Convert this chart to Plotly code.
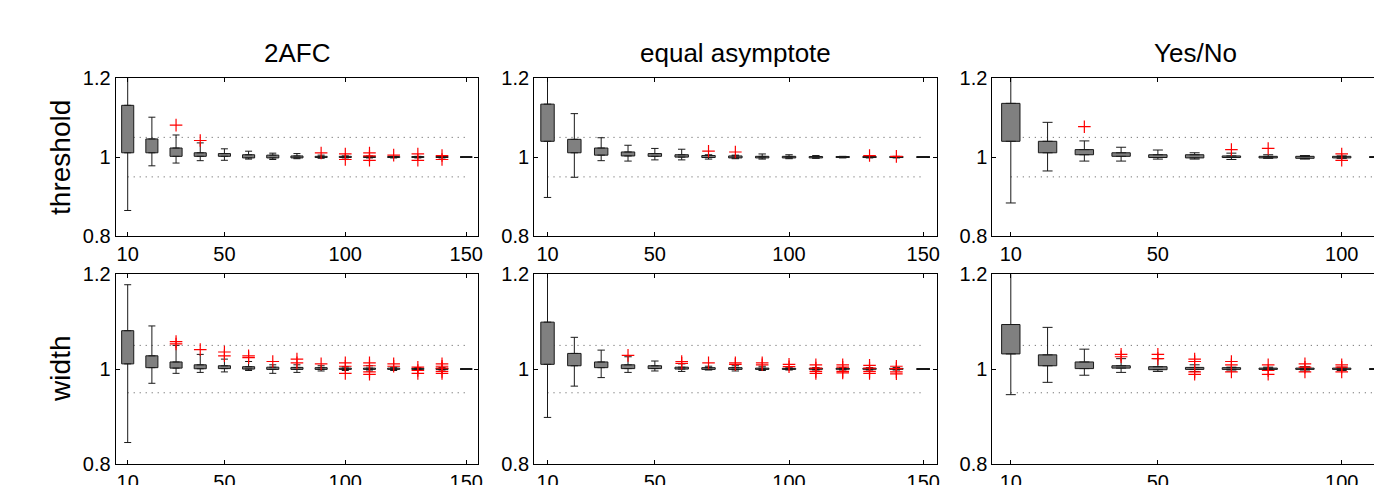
import plotly.graph_objects as go

# ---------------- data ----------------
x_long = [10, 20, 30, 40, 50, 60, 70, 80, 90, 100, 110, 120, 130, 140, 150]
x_short = [10, 20, 30, 40, 50, 60, 70, 80, 90, 100, 110]

col_titles = ["2AFC", "equal asymptote", "Yes/No"]
row_titles = ["threshold", "width"]
y_tick_vals = [0.8, 1.0, 1.2]
y_tick_text = ["0.8", "1", "1.2"]
x_ticks_long = [10, 50, 100, 150]
x_ticks_short = [10, 50, 100]
ref_lines = [1.05, 0.95]

# threshold, 2AFC
thr_2afc_q1 = [1.011, 1.011, 1.002, 1.002, 1.002, 0.998, 0.998, 0.998, 0.999, 0.999, 0.999, 0.999, 0.999, 0.999, 1.0]
thr_2afc_q3 = [1.131, 1.046, 1.023, 1.011, 1.009, 1.006, 1.005, 1.003, 1.002, 1.002, 1.0015, 1.0015, 1.0015, 1.0015, 1.0]
thr_2afc_lo = [0.865, 0.978, 0.985, 0.991, 0.992, 0.995, 0.994, 0.996, 0.997, 0.998, 0.998, 0.998, 0.998, 0.998, 1.0]
thr_2afc_hi = [1.25, 1.101, 1.056, 1.036, 1.021, 1.015, 1.010, 1.009, 1.005, 1.003, 1.003, 1.002, 1.002, 1.002, 1.0]
thr_2afc_out_x = [30, 40, 90, 100, 100, 110, 110, 110, 120, 130, 130, 140, 140]
thr_2afc_out_y = [1.081, 1.042, 1.0105, 1.008, 0.994, 1.0105, 1.003, 0.992, 1.005, 1.008, 0.992, 1.004, 0.994]

# threshold, equal asymptote
thr_eq_q1 = [1.040, 1.011, 1.005, 1.003, 1.002, 1.000, 0.999, 0.998, 0.998, 0.998, 0.998, 0.999, 0.999, 0.999, 1.0]
thr_eq_q3 = [1.134, 1.045, 1.023, 1.013, 1.009, 1.006, 1.004, 1.003, 1.002, 1.002, 1.0016, 1.0015, 1.0015, 1.0015, 1.0]
thr_eq_lo = [0.898, 0.949, 0.991, 0.990, 0.993, 0.993, 0.995, 0.996, 0.995, 0.996, 0.997, 0.998, 0.998, 0.998, 1.0]
thr_eq_hi = [1.25, 1.110, 1.049, 1.030, 1.022, 1.020, 1.006, 1.005, 1.008, 1.006, 1.004, 1.002, 1.002, 1.002, 1.0]
thr_eq_out_x = [70, 80, 130, 140]
thr_eq_out_y = [1.015, 1.013, 1.004, 1.002]

# threshold, Yes/No
thr_yn_q1 = [1.040, 1.011, 1.006, 1.002, 0.999, 0.998, 0.999, 0.998, 0.997, 0.998, 1.0]
thr_yn_q3 = [1.136, 1.040, 1.019, 1.011, 1.006, 1.006, 1.003, 1.002, 1.002, 1.002, 1.0]
thr_yn_lo = [0.884, 0.965, 0.990, 0.990, 0.995, 0.995, 0.994, 0.997, 0.995, 0.997, 1.0]
thr_yn_hi = [1.25, 1.088, 1.041, 1.025, 1.018, 1.011, 1.010, 1.006, 1.004, 1.003, 1.0]
thr_yn_out_x = [30, 70, 80, 100, 100]
thr_yn_out_y = [1.077, 1.019, 1.022, 1.008, 0.992]

# width, 2AFC
wid_2afc_q1 = [1.011, 1.003, 1.002, 1.0007, 1.001, 1.0, 0.9993, 0.9993, 0.9993, 0.9993, 0.9993, 0.9993, 0.9993, 0.9993, 1.0]
wid_2afc_q3 = [1.081, 1.028, 1.015, 1.009, 1.007, 1.005, 1.004, 1.0035, 1.003, 1.002, 1.002, 1.002, 1.0015, 1.0015, 1.0]
wid_2afc_lo = [0.845, 0.970, 0.991, 0.993, 0.994, 0.997, 0.991, 0.993, 0.996, 0.997, 0.996, 0.997, 0.998, 0.998, 1.0]
wid_2afc_hi = [1.178, 1.091, 1.050, 1.031, 1.021, 1.016, 1.009, 1.009, 1.007, 1.005, 1.007, 1.004, 1.003, 1.003, 1.0]
wid_2afc_out_x = [30, 30, 40, 50, 50, 60, 60, 70, 80, 80, 90, 100, 100, 100, 110, 110, 110, 110,
                  120, 120, 130, 130, 130, 140, 140, 140, 140, 140]
wid_2afc_out_y = [1.058, 1.053, 1.041, 1.036, 1.028, 1.028, 1.024, 1.016, 1.021, 1.013, 1.011, 1.013, 1.006, 0.991,
                  1.013, 1.007, 0.994, 0.989, 1.011, 1.006, 1.004, 0.997, 0.991, 1.011, 1.006, 1.002, 0.995, 0.991]

# width, equal asymptote
wid_eq_q1 = [1.010, 1.007, 1.003, 1.001, 1.001, 1.0, 0.9993, 0.9993, 0.9993, 0.9993, 0.9995, 0.9995, 0.9995, 0.9995, 1.0]
wid_eq_q3 = [1.099, 1.033, 1.015, 1.009, 1.007, 1.004, 1.003, 1.003, 1.002, 1.0015, 1.0015, 1.0015, 1.0015, 1.0015, 1.0]
wid_eq_lo = [0.898, 0.964, 0.982, 0.993, 0.996, 0.995, 0.998, 0.996, 0.997, 0.998, 0.998, 0.998, 0.998, 0.998, 1.0]
wid_eq_hi = [1.25, 1.067, 1.040, 1.026, 1.017, 1.011, 1.006, 1.007, 1.006, 1.004, 1.003, 1.003, 1.003, 1.003, 1.0]
wid_eq_out_x = [40, 60, 60, 70, 80, 80, 90, 90, 100, 100, 110, 110, 110, 110, 120, 120, 120, 120,
                130, 130, 130, 130, 140, 140, 140, 140]
wid_eq_out_y = [1.029, 1.016, 1.012, 1.013, 1.013, 1.010, 1.013, 1.009, 1.010, 1.005, 1.009, 1.002, 0.995, 0.991,
                1.009, 1.004, 0.995, 0.992, 1.008, 1.002, 0.995, 0.991, 1.006, 1.001, 0.994, 0.990]

# width, Yes/No
wid_yn_q1 = [1.032, 1.007, 1.001, 1.002, 0.9987, 0.9993, 0.9993, 0.9993, 0.9993, 0.9993, 1.0]
wid_yn_q3 = [1.094, 1.030, 1.015, 1.007, 1.005, 1.0035, 1.003, 1.002, 1.002, 1.002, 1.0]
wid_yn_lo = [0.946, 0.972, 0.987, 0.993, 0.995, 0.995, 0.996, 0.997, 0.996, 0.997, 1.0]
wid_yn_hi = [1.25, 1.088, 1.042, 1.022, 1.022, 1.009, 1.004, 1.004, 1.005, 1.004, 1.0]
wid_yn_out_x = [40, 40, 50, 50, 60, 60, 60, 60, 70, 70, 70, 80, 80, 80, 90, 90, 90, 100, 100, 100]
wid_yn_out_y = [1.031, 1.026, 1.031, 1.022, 1.021, 1.016, 0.994, 0.989, 1.016, 1.009, 0.994, 1.009, 0.997, 0.989,
                1.011, 1.004, 0.994, 1.009, 1.004, 0.994]

# ---------------- layout geometry (pixels) ----------------
W, H = 1382, 485
col_px = [(108, 472), (528, 932), (988, 1382)]
row_px = [(62, 228), (268, 467)]
x_ranges = [[5, 155], [5, 155], [5, 5 + (1382 - 988) / 3.69]]
cap_px = [3.5, 3.7, 5.0]
BOX_W = 5

panels = [
    (0, 0, x_long, thr_2afc_q1, thr_2afc_q3, thr_2afc_lo, thr_2afc_hi, thr_2afc_out_x, thr_2afc_out_y),
    (0, 1, x_long, thr_eq_q1, thr_eq_q3, thr_eq_lo, thr_eq_hi, thr_eq_out_x, thr_eq_out_y),
    (0, 2, x_short, thr_yn_q1, thr_yn_q3, thr_yn_lo, thr_yn_hi, thr_yn_out_x, thr_yn_out_y),
    (1, 0, x_long, wid_2afc_q1, wid_2afc_q3, wid_2afc_lo, wid_2afc_hi, wid_2afc_out_x, wid_2afc_out_y),
    (1, 1, x_long, wid_eq_q1, wid_eq_q3, wid_eq_lo, wid_eq_hi, wid_eq_out_x, wid_eq_out_y),
    (1, 2, x_short, wid_yn_q1, wid_yn_q3, wid_yn_lo, wid_yn_hi, wid_yn_out_x, wid_yn_out_y),
]

FONT = "Liberation Sans, Arial, Helvetica, sans-serif"
LINE = "#1a1a1a"
fig = go.Figure()
layout_axes = {}
shapes = []

for k, (r, c, xs, q1, q3, lo, hi, ox, oy) in enumerate(panels):
    n = k + 1
    xa = "x" if n == 1 else f"x{n}"
    ya = "y" if n == 1 else f"y{n}"
    nb = len(xs)

    # dotted reference lines, placed on the data axes, drawn beneath the boxes
    for yv in ref_lines:
        shapes.append(dict(
            type="line", xref=xa, yref=ya, x0=xs[0], x1=xs[-1], y0=yv, y1=yv,
            layer="below", line=dict(color="#555555", width=1, dash="1px,5px")))

    # boxes (interquartile range)
    fig.add_trace(go.Bar(
        x=xs, y=[b - a for a, b in zip(q1, q3)], base=q1, width=BOX_W,
        marker=dict(color="#808080", line=dict(color=LINE, width=1)),
        xaxis=xa, yaxis=ya, hoverinfo="skip", showlegend=False))

    # whiskers (upper and lower) as one-sided error bars from the box edges
    fig.add_trace(go.Scatter(
        x=xs, y=q3, mode="markers", marker=dict(size=1, opacity=0),
        error_y=dict(type="data", symmetric=False,
                     array=[h - q for h, q in zip(hi, q3)], arrayminus=[0] * nb,
                     width=cap_px[c], thickness=1, color=LINE),
        xaxis=xa, yaxis=ya, hoverinfo="skip", showlegend=False))
    fig.add_trace(go.Scatter(
        x=xs, y=q1, mode="markers", marker=dict(size=1, opacity=0),
        error_y=dict(type="data", symmetric=False,
                     array=[0] * nb, arrayminus=[q - l for q, l in zip(q1, lo)],
                     width=cap_px[c], thickness=1, color=LINE),
        xaxis=xa, yaxis=ya, hoverinfo="skip", showlegend=False))

    # degenerate boxes (all values equal) drawn as a flat box
    flat = [i for i in range(nb) if q1[i] == q3[i]]
    if flat:
        fig.add_trace(go.Box(
            x=[xs[i] for i in flat], q1=[q1[i] for i in flat], median=[q1[i] for i in flat],
            q3=[q3[i] for i in flat], lowerfence=[lo[i] for i in flat],
            upperfence=[hi[i] for i in flat], width=BOX_W, whiskerwidth=0.5,
            fillcolor="#808080", line=dict(color="black", width=1.5), boxpoints=False,
            xaxis=xa, yaxis=ya, hoverinfo="skip", showlegend=False))

    # outliers
    fig.add_trace(go.Scatter(
        x=ox, y=oy, mode="markers",
        marker=dict(symbol="cross-thin-open", size=9, color="red",
                    line=dict(color="red", width=1.2)),
        xaxis=xa, yaxis=ya, showlegend=False, hoverinfo="skip"))

    cx0, cx1 = col_px[c]
    ry0, ry1 = row_px[r]
    xkey = "xaxis" if n == 1 else f"xaxis{n}"
    ykey = "yaxis" if n == 1 else f"yaxis{n}"
    layout_axes[xkey] = dict(
        domain=[cx0 / W, cx1 / W], range=x_ranges[c], anchor=ya,
        tickvals=x_ticks_short if c == 2 else x_ticks_long,
        ticks="inside", ticklen=4, tickcolor="black",
        showline=True, linecolor="black", linewidth=1, mirror="ticks",
        showgrid=False, zeroline=False,
        tickfont=dict(family=FONT, size=20, color="black"))
    layout_axes[ykey] = dict(
        domain=[1 - ry1 / H, 1 - ry0 / H], range=[0.8, 1.2], anchor=xa,
        tickvals=y_tick_vals, ticktext=y_tick_text,
        ticks="inside", ticklen=4, tickcolor="black",
        showline=True, linecolor="black", linewidth=1,
        mirror=("ticks" if c < 2 else False),
        showgrid=False, zeroline=False,
        tickfont=dict(family=FONT, size=20, color="black"))

annotations = []
title_cx = [(108 + 472) / 2, (528 + 932) / 2, (988 + 1396) / 2]
for c, t in enumerate(col_titles):
    annotations.append(dict(
        text=t, x=title_cx[c] / W, y=1 - 36 / H, xref="paper", yref="paper",
        xanchor="center", yanchor="middle", showarrow=False,
        font=dict(family=FONT, size=26, color="black")))
for r, t in enumerate(row_titles):
    ry0, ry1 = row_px[r]
    annotations.append(dict(
        text=t, x=52 / W, y=1 - ((ry0 + ry1) / 2) / H, xref="paper", yref="paper",
        xanchor="center", yanchor="middle", showarrow=False, textangle=-90,
        font=dict(family=FONT, size=28, color="black")))

fig.update_layout(
    width=W, height=H, margin=dict(l=0, r=0, t=0, b=0),
    paper_bgcolor="white", plot_bgcolor="white", barmode="overlay",
    showlegend=False, annotations=annotations, shapes=shapes, **layout_axes)

fig.write_html("out.html")
